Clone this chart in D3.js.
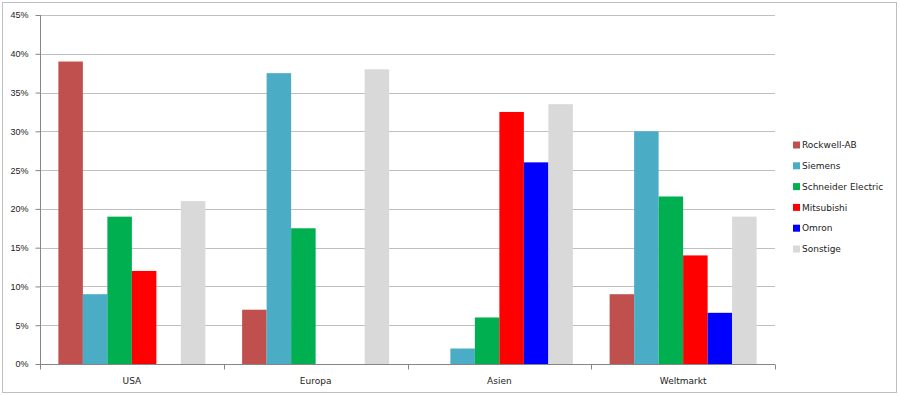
<!DOCTYPE html>
<html>
<head>
<meta charset="utf-8">
<script src="https://cdn.jsdelivr.net/npm/d3@7"></script>
<style>
    body { margin: 0; background: #fff; }
    svg { font-family: 'DejaVu Sans', sans-serif; }
    .tick text { font-size: 9px; fill: #222; }
</style>
</head>
<body>
<svg id="chart" width="900" height="396"></svg>
<script>
    // chart data
    var regions = ["USA", "Europa", "Asien", "Weltmarkt"];
    var vendors = ["Rockwell-AB", "Siemens", "Schneider Electric", "Mitsubishi", "Omron", "Sonstige"];
    var colors = ["#C0504D", "#4BACC6", "#00B050", "#FF0000", "#0000FF", "#D9D9D9"];
    var rockwell = [39, 7, 0, 9];
    var siemens = [9, 37.5, 2, 30];
    var schneider = [19, 17.5, 6, 21.6];
    var mitsubishi = [12, 0, 32.5, 14];
    var omron = [0, 0, 26, 6.6];
    var sonstige = [21, 38, 33.5, 19];
    var yTicks = [0, 5, 10, 15, 20, 25, 30, 35, 40, 45];

    var series = [rockwell, siemens, schneider, mitsubishi, omron, sonstige];

    var margin = { left: 40, right: 125, top: 15, bottom: 32 };
    var width = 900 - margin.left - margin.right,
        height = 396 - margin.top - margin.bottom;

    var svg = d3.select("#chart");

    // outer frame
    svg.append("rect")
        .attr("x", 2.5).attr("y", 2.5)
        .attr("width", 894).attr("height", 390)
        .attr("fill", "#fff")
        .attr("stroke", "#BFBFBF");

    var g = svg.append("g")
        .attr("transform", `translate(${margin.left},${margin.top})`);

    var x0 = d3.scaleBand()
        .domain(regions)
        .range([0, width])
        .paddingInner(0.2)
        .paddingOuter(0.1);

    var x1 = d3.scaleBand()
        .domain(vendors)
        .range([0, x0.bandwidth()]);

    var y = d3.scaleLinear()
        .domain([0, 45])
        .range([height, 0]);

    // gridlines
    g.append("g")
        .selectAll("line")
        .data(yTicks.slice(1))
        .join("line")
        .attr("x1", 0).attr("x2", width)
        .attr("y1", d => Math.round(y(d)) + 0.5)
        .attr("y2", d => Math.round(y(d)) + 0.5)
        .attr("stroke", "#C0C0C0");

    // bars
    regions.forEach(function (r, i) {
        var grp = g.append("g").attr("transform", `translate(${x0(r)},0)`);
        vendors.forEach(function (v, j) {
            var val = series[j][i];
            if (val <= 0) return;
            grp.append("rect")
                .attr("x", x1(v))
                .attr("y", y(val))
                .attr("width", x1.bandwidth())
                .attr("height", y(0) - y(val))
                .attr("fill", colors[j]);
        });
    });

    // y axis
    var yAxis = g.append("g")
        .attr("transform", "translate(0.5,0)")
        .call(d3.axisLeft(y).tickValues(yTicks).tickFormat(d => d + "%").tickSize(5).tickPadding(7));
    yAxis.selectAll("line").attr("stroke", "#868686");
    yAxis.select(".domain").attr("stroke", "#868686").attr("d", `M0,${height}V0`);

    // x axis with boundary ticks
    var xg = g.append("g").attr("transform", `translate(0,${Math.round(height) + 0.5})`);
    xg.append("line")
        .attr("x1", 0).attr("x2", width)
        .attr("stroke", "#868686");
    var step = x0.step();
    xg.selectAll(".bt")
        .data(d3.range(regions.length + 1))
        .join("line")
        .attr("x1", d => Math.round(d * step) + 0.5)
        .attr("x2", d => Math.round(d * step) + 0.5)
        .attr("y1", 0).attr("y2", 5)
        .attr("stroke", "#868686");
    xg.selectAll("text")
        .data(regions)
        .join("text")
        .attr("x", d => x0(d) + x0.bandwidth() / 2)
        .attr("y", 19)
        .attr("text-anchor", "middle")
        .style("font-size", "9px")
        .attr("fill", "#222")
        .text(d => d);

    // legend
    var legend = svg.append("g").attr("transform", "translate(793,145)");
    vendors.forEach(function (v, j) {
        var row = legend.append("g").attr("transform", `translate(0,${j * 20.8})`);
        row.append("rect")
            .attr("x", 0).attr("y", -3.5)
            .attr("width", 7).attr("height", 7)
            .attr("fill", colors[j]);
        row.append("text")
            .attr("x", 9).attr("y", 0)
            .attr("dy", "0.35em")
            .style("font-size", "9px")
            .attr("fill", "#222")
            .text(v);
    });
</script>
</body>
</html>
